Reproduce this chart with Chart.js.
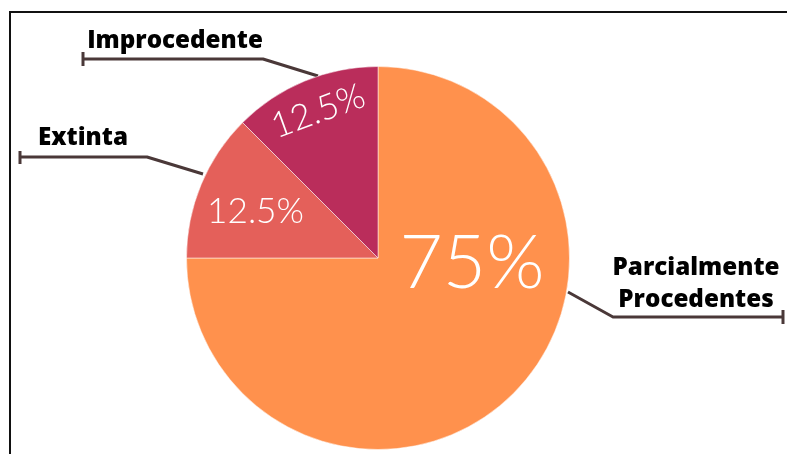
<!DOCTYPE html>
<html><head><meta charset="utf-8">
<script src="https://cdn.jsdelivr.net/npm/chart.js@4"></script>
<style>html,body{margin:0;padding:0;background:#fff;overflow:hidden}#wrap{width:787px;height:454px;position:relative}</style>
</head><body><div id="wrap"><canvas id="c"></canvas></div>
<script>
const categories = [['Parcialmente','Procedentes'], ['Extinta'], ['Improcedente']];
const values = [75, 12.5, 12.5];
const colors = ['#FF914D', '#E4605A', '#BA2D5B'];

// annotation layout (positions in px)
const pctLayout = [
  {x: 472, y: 288, w: 145, rot: 0},
  {x: 255.5, y: 223, w: 97, rot: 0},
  {x: 322, y: 122, w: 97, rot: -20}
];
const labelLayout = [
  {cx: 696, ys: [275, 307], line: [[783,317],[613,317],[568,292]], tick: [783, 310, 324]},
  {cx: 83, ys: [145], line: [[20,157],[147,157],[203,174]], tick: [20, 151, 164]},
  {cx: 175, ys: [48], line: [[83,59],[263,59],[318,76]], tick: [83, 52, 66]}
];

const decor = {
  id: 'decor',
  beforeDraw(chart) {
    const ctx = chart.ctx;
    ctx.save();
    ctx.strokeStyle = '#111';
    ctx.lineWidth = 2;
    ctx.beginPath();
    ctx.moveTo(10, 454);
    ctx.lineTo(10, 12);
    ctx.lineTo(787, 12);
    ctx.stroke();
    ctx.restore();
  },
  beforeDatasetsDraw(chart) {
    const ctx = chart.ctx;
    ctx.save();
    ctx.strokeStyle = '#4A3838';
    ctx.lineWidth = 3;
    ctx.lineJoin = 'round';
    labelLayout.forEach(l => {
      ctx.beginPath();
      l.line.forEach((p, i) => i ? ctx.lineTo(p[0], p[1]) : ctx.moveTo(p[0], p[1]));
      ctx.stroke();
      ctx.beginPath();
      ctx.moveTo(l.tick[0], l.tick[1]);
      ctx.lineTo(l.tick[0], l.tick[2]);
      ctx.stroke();
    });
    ctx.restore();
  },
  afterDatasetsDraw(chart) {
    const ctx = chart.ctx;
    const total = values.reduce((a, b) => a + b, 0);
    ctx.save();
    ctx.fillStyle = '#ffffff';
    ctx.textAlign = 'center';
    ctx.textBaseline = 'alphabetic';
    values.forEach((v, i) => {
      const t = (Math.round(v / total * 1000) / 10) + '%';
      const L = pctLayout[i];
      ctx.font = '300 100px Lato, "Open Sans", sans-serif';
      const size = 100 * L.w / ctx.measureText(t).width;
      ctx.font = '300 ' + size.toFixed(1) + 'px Lato, "Open Sans", sans-serif';
      ctx.save();
      ctx.translate(L.x, L.y);
      ctx.rotate(L.rot * Math.PI / 180);
      ctx.fillText(t, 0, 0);
      ctx.restore();
    });
    ctx.fillStyle = '#000000';
    ctx.font = '800 100px "Open Sans", sans-serif';
    const ls = Math.min(25, 100 * 176 / ctx.measureText('Improcedente').width);
    ctx.font = '800 ' + ls.toFixed(1) + 'px "Open Sans", sans-serif';
    categories.forEach((lines, i) => {
      const L = labelLayout[i];
      lines.forEach((s, j) => ctx.fillText(s, L.cx, L.ys[j]));
    });
    ctx.restore();
  }
};

new Chart(document.getElementById('c'), {
  type: 'pie',
  data: {
    labels: categories.map(l => l.join(' ')),
    datasets: [{
      data: values,
      backgroundColor: colors,
      borderColor: 'rgba(255,255,255,0.5)',
      borderWidth: 1
    }]
  },
  options: {
    responsive: true,
    maintainAspectRatio: false,
    animation: false,
    layout: {padding: {left: 186, right: 217, top: 66, bottom: 4}},
    plugins: {legend: {display: false}, tooltip: {enabled: false}}
  },
  plugins: [decor]
});
</script></body></html>
